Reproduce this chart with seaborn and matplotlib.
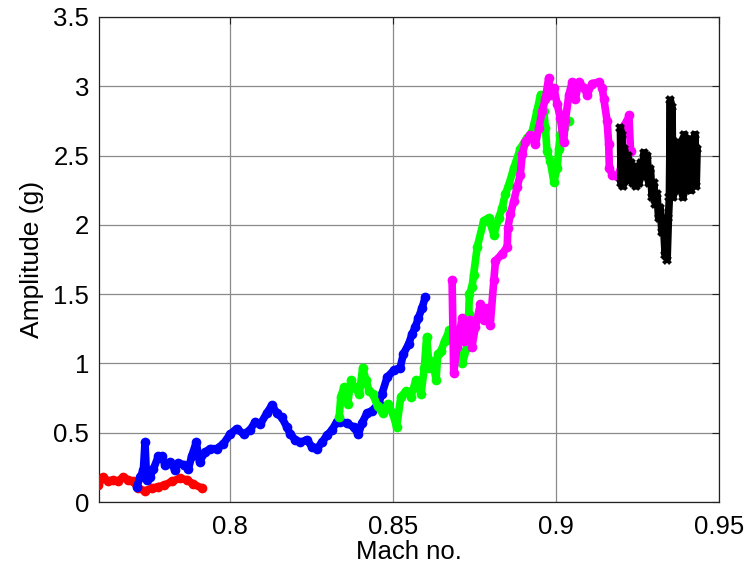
import matplotlib
matplotlib.use("Agg")
import matplotlib.pyplot as plt
import pandas as pd
import seaborn as sns

# ---------------- data ----------------
red_x = [0.7598, 0.7612, 0.7628, 0.7643, 0.7658, 0.7674, 0.7689, 0.7704, 0.7720,
         0.7740, 0.7763, 0.7780, 0.7800, 0.7824, 0.7848, 0.7870, 0.7888, 0.7916]
red_y = [0.12, 0.18, 0.15, 0.16, 0.15, 0.18, 0.16, 0.15, 0.10,
         0.08, 0.10, 0.11, 0.12, 0.15, 0.17, 0.16, 0.13, 0.10]

blue_x = [0.7716, 0.7726, 0.7736, 0.7741, 0.7746, 0.7756, 0.7767, 0.7782, 0.7792, 0.7802,
          0.7818, 0.7833, 0.7843, 0.7859, 0.7874, 0.7884, 0.7898, 0.7908, 0.7925, 0.7941,
          0.7961, 0.7981, 0.8002, 0.8022, 0.8043, 0.8063, 0.8079, 0.8094, 0.8114, 0.8130,
          0.8145, 0.8160, 0.8176, 0.8186, 0.8201, 0.8217, 0.8237, 0.8252, 0.8268, 0.8283,
          0.8298, 0.8314, 0.8329, 0.8339, 0.8360, 0.8380, 0.8395, 0.8406, 0.8421, 0.8437,
          0.8457, 0.8467, 0.8483, 0.8503, 0.8523, 0.8533, 0.8549, 0.8559, 0.8569, 0.8579,
          0.8590, 0.8600]
blue_y = [0.11, 0.18, 0.23, 0.43, 0.16, 0.18, 0.24, 0.33, 0.33, 0.27,
          0.29, 0.23, 0.28, 0.27, 0.24, 0.33, 0.43, 0.29, 0.36, 0.385,
          0.385, 0.42, 0.49, 0.53, 0.49, 0.52, 0.58, 0.56, 0.64, 0.70,
          0.64, 0.61, 0.54, 0.49, 0.45, 0.43, 0.45, 0.40, 0.385, 0.43,
          0.48, 0.52, 0.58, 0.58, 0.57, 0.54, 0.49, 0.57, 0.64, 0.66,
          0.71, 0.78, 0.90, 0.95, 0.97, 1.07, 1.14, 1.21, 1.26, 1.33,
          1.40, 1.48]

green_x = [0.8336, 0.8341, 0.8351, 0.8362, 0.8372, 0.8382, 0.8398, 0.8408, 0.8418, 0.8428,
           0.8439, 0.8454, 0.8469, 0.8485, 0.8500, 0.8512, 0.8525, 0.8541, 0.8556, 0.8571,
           0.8587, 0.8597, 0.8604, 0.8612, 0.8623, 0.8633, 0.8638, 0.8648, 0.8659, 0.8674,
           0.8690, 0.8700, 0.8713, 0.8728, 0.8733, 0.8735, 0.8743, 0.8748, 0.8759, 0.8779,
           0.8794, 0.8810, 0.8825, 0.8835, 0.8845, 0.8856, 0.8871, 0.8891, 0.8912, 0.8927,
           0.8942, 0.8953, 0.8963, 0.8968, 0.8973, 0.8983, 0.8994, 0.9004, 0.9009, 0.9014,
           0.9024, 0.9040]
green_y = [0.61, 0.76, 0.83, 0.71, 0.88, 0.83, 0.78, 0.97, 0.88, 0.80,
           0.78, 0.69, 0.64, 0.71, 0.64, 0.54, 0.76, 0.80, 0.76, 0.88,
           0.78, 0.97, 1.19, 0.97, 1.02, 0.88, 1.07, 1.09, 1.16, 1.24,
           1.20, 1.10, 1.00, 1.12, 1.36, 1.50, 1.55, 1.64, 1.84, 2.03,
           2.05, 1.93, 2.05, 2.12, 2.22, 2.29, 2.41, 2.55, 2.63, 2.67,
           2.82, 2.94, 2.82, 2.70, 2.53, 2.46, 2.31, 2.41, 2.55, 2.65,
           2.70, 2.75]

magenta_x = [0.8682, 0.8687, 0.8697, 0.8713, 0.8718, 0.8728, 0.8738, 0.8743, 0.8753, 0.8769,
             0.8779, 0.8789, 0.8799, 0.8810, 0.8815, 0.8835, 0.8851, 0.8853, 0.8861, 0.8871,
             0.8881, 0.8891, 0.8897, 0.8907, 0.8922, 0.8937, 0.8948, 0.8958, 0.8968, 0.8978,
             0.8983, 0.8994, 0.9004, 0.9014, 0.9024, 0.9029, 0.9040, 0.9050, 0.9060, 0.9070,
             0.9086, 0.9096, 0.9111, 0.9132, 0.9142, 0.9147, 0.9157, 0.9162, 0.9164, 0.9173,
             0.9188, 0.9198, 0.9203, 0.9219, 0.9224, 0.9229]
magenta_y = [1.60, 0.93, 1.12, 1.33, 1.16, 1.26, 1.31, 1.12, 1.26, 1.43,
             1.31, 1.40, 1.28, 1.60, 1.74, 1.79, 1.84, 1.98, 2.08, 2.17,
             2.27, 2.36, 2.51, 2.60, 2.65, 2.58, 2.70, 2.82, 2.91, 3.06,
             2.94, 2.99, 2.87, 2.77, 2.60, 2.75, 2.94, 3.03, 2.91, 3.03,
             2.99, 2.94, 3.02, 3.03, 2.99, 2.91, 2.75, 2.58, 2.41, 2.36,
             2.35, 2.39, 2.70, 2.75, 2.79, 2.53]

black_x = [0.9198, 0.9200, 0.9203, 0.9206, 0.9210, 0.9215, 0.9220, 0.9225, 0.9230, 0.9235,
           0.9240, 0.9245, 0.9250, 0.9255, 0.9260, 0.9265, 0.9270, 0.9275, 0.9280, 0.9285,
           0.9290, 0.9295, 0.9300, 0.9305, 0.9310, 0.9315, 0.9320, 0.9325, 0.9330, 0.9335,
           0.9338, 0.9341, 0.9345, 0.9348, 0.9351, 0.9353, 0.9356, 0.9359, 0.9362, 0.9366,
           0.9370, 0.9374, 0.9378, 0.9382, 0.9386, 0.9390, 0.9394, 0.9398, 0.9402, 0.9406,
           0.9410, 0.9414, 0.9418, 0.9422, 0.9426, 0.9430, 0.9433]
black_y = [2.70, 2.30, 2.65, 2.28, 2.55, 2.35, 2.50, 2.32, 2.45, 2.30,
           2.42, 2.28, 2.40, 2.30, 2.45, 2.35, 2.52, 2.38, 2.50, 2.30,
           2.40, 2.20, 2.30, 2.15, 2.22, 2.05, 2.12, 1.95, 2.00, 1.78,
           1.90, 1.75, 2.05, 2.20, 2.90, 2.25, 2.85, 2.20, 2.60, 2.25,
           2.55, 2.30, 2.50, 2.25, 2.60, 2.20, 2.65, 2.25, 2.60, 2.30,
           2.62, 2.25, 2.55, 2.30, 2.65, 2.28, 2.55]

series_names = ["red", "blue", "green", "magenta", "black"]
series_colors = ["#ff0000", "#0000ff", "#00ff00", "#ff00ff", "#000000"]

x_ticks = [0.8, 0.85, 0.9, 0.95]
x_tick_labels = ["0.8", "0.85", "0.9", "0.95"]
y_ticks = [0, 0.5, 1, 1.5, 2, 2.5, 3, 3.5]
y_tick_labels = ["0", "0.5", "1", "1.5", "2", "2.5", "3", "3.5"]
x_label = "Mach no."
y_label = "Amplitude (g)"

# ---------------- build table ----------------
all_x = [red_x, blue_x, green_x, magenta_x, black_x]
all_y = [red_y, blue_y, green_y, magenta_y, black_y]
frames = []
for name, xs, ys in zip(series_names, all_x, all_y):
    frames.append(pd.DataFrame({"mach": xs, "amp": ys, "run": name}))
df = pd.concat(frames, ignore_index=True)

sns.set_style("white")
plt.rcParams["font.family"] = ["Liberation Sans", "DejaVu Sans"]
plt.rcParams["text.color"] = "black"
plt.rcParams["axes.labelcolor"] = "black"
plt.rcParams["xtick.color"] = "black"
plt.rcParams["ytick.color"] = "black"

fig = plt.figure(figsize=(7.55, 5.67), dpi=100)
ax = fig.add_axes([99 / 755, 65 / 567, 620 / 755, 485 / 567])

palette = dict(zip(series_names, series_colors))
markers = {"red": "o", "blue": "o", "green": "o", "magenta": "o", "black": "X"}
sns.lineplot(data=df, x="mach", y="amp", hue="run", style="run",
             hue_order=series_names, style_order=series_names,
             palette=palette, markers=markers, dashes=False,
             sort=False, estimator=None, linewidth=5.5, markersize=7,
             markeredgewidth=0, legend=False, ax=ax, zorder=3)

ax.set_xlim(0.76, 0.95)
ax.set_ylim(0, 3.5)
ax.set_xticks(x_ticks)
ax.set_xticklabels(x_tick_labels)
ax.set_yticks(y_ticks)
ax.set_yticklabels(y_tick_labels)
ax.grid(True, color="#8a8a8a", linewidth=0.9)
ax.set_axisbelow(True)
for s in ax.spines.values():
    s.set_color("#222222")
    s.set_linewidth(0.9)
    s.set_visible(True)
ax.tick_params(axis="both", which="both", direction="in", length=5,
               top=True, right=True, labelsize=18.5, color="#222222",
               labelcolor="black")
ax.tick_params(axis="x", pad=9)
ax.tick_params(axis="y", pad=7)
ax.set_xlabel(x_label, fontsize=18.5, labelpad=1, color="black")
ax.set_ylabel(y_label, fontsize=19, labelpad=7, color="black")

fig.savefig("out.png", dpi=100)
